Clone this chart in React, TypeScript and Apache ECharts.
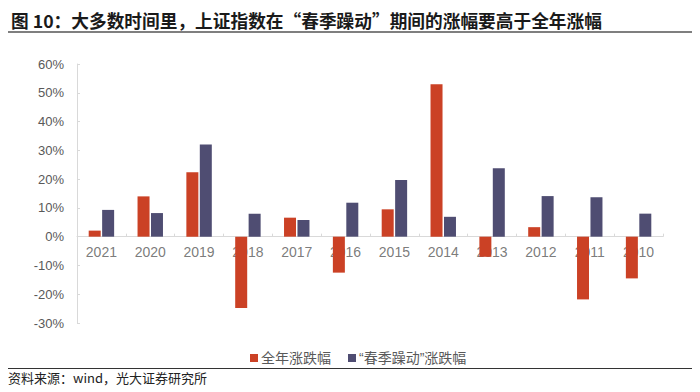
import React, { useEffect, useRef } from "react";
import * as echarts from "echarts";

const categories = ["2021", "2020", "2019", "2018", "2017", "2016", "2015", "2014", "2013", "2012", "2011", "2010"];
const fullYear = [2.1, 14.0, 22.4, -24.8, 6.6, -12.5, 9.5, 53.0, -7.0, 3.3, -21.8, -14.5];
const springRally = [9.3, 8.2, 32.0, 8.0, 5.8, 11.8, 19.7, 6.9, 23.8, 14.1, 13.7, 8.0];
const labelAnchors = [0, 0, 0, 0, 0, 0, 0, 0, 0, 0, 0, 0];
const seriesNames = ["全年涨跌幅", "\u201C春季躁动\u201D涨跌幅"];
const titleText = "图 10：大多数时间里，上证指数在“春季躁动”期间的涨幅要高于全年涨幅";
const sourceText = "资料来源：wind，光大证券研究所";

const FONT = "'Noto Sans CJK SC', 'Noto Sans', sans-serif";
const LATIN_FIRST = "'Liberation Sans', 'Noto Sans CJK SC', sans-serif";

export default function App() {
  const ref = useRef<HTMLDivElement>(null);
  useEffect(() => {
    if (!ref.current) return;
    const chart = echarts.init(ref.current, undefined, { renderer: "svg" });
    chart.setOption({
      animation: false,
      backgroundColor: "#ffffff",
      textStyle: { fontFamily: FONT },
      title: {
        text: titleText,
        left: 6,
        top: 6,
        textStyle: { fontSize: 17.7, fontWeight: "bold", color: "#1a1a1a", fontFamily: FONT },
      },
      graphic: [
        { type: "line", shape: { x1: 8, y1: 32, x2: 692, y2: 32 }, style: { stroke: "#555", lineWidth: 1.5 } },
        { type: "line", shape: { x1: 8, y1: 368.5, x2: 692, y2: 368.5 }, style: { stroke: "#333", lineWidth: 1 } },
        {
          type: "text",
          left: 8,
          top: 371,
          style: { text: sourceText, fontSize: 13, fill: "#222", fontFamily: FONT },
        },
      ],
      legend: {
        left: 245,
        top: 346,
        icon: "rect",
        itemWidth: 8,
        itemHeight: 8,
        itemGap: 17,
        textStyle: { fontSize: 14, color: "#595959", fontFamily: LATIN_FIRST, padding: [0, 0, 0, -2] },
        data: seriesNames,
      },
      grid: { left: 77, right: 37, top: 64, bottom: 69 },
      xAxis: {
        type: "category",
        data: categories,
        axisLine: { onZero: true, lineStyle: { color: "#d9d9d9", width: 1 } },
        axisTick: { show: true, length: 3, inside: true, lineStyle: { color: "#d9d9d9" } },
        axisLabel: { show: false },
        z: 0,
      },
      yAxis: {
        type: "value",
        min: -30,
        max: 60,
        interval: 10,
        axisLine: { show: true, lineStyle: { color: "#d9d9d9", width: 1 } },
        axisTick: { show: true, length: 3, inside: true, lineStyle: { color: "#d9d9d9" } },
        splitLine: { show: false },
        axisLabel: { fontSize: 13, color: "#595959", margin: 13, formatter: "{value}%", fontFamily: "'Liberation Sans', Arial, sans-serif" },
      },
      series: [
        {
          name: "xlabels",
          type: "scatter",
          data: labelAnchors,
          symbolSize: 0,
          silent: true,
          z: 1,
          label: {
            show: true,
            position: "bottom",
            distance: 8,
            formatter: (p: any) => p.name,
            fontSize: 14,
            color: "#595959",
            fontFamily: "'Liberation Sans', Arial, sans-serif",
          },
          tooltip: { show: false },
        },
        {
          name: seriesNames[0],
          type: "bar",
          data: fullYear,
          barWidth: 12,
          barGap: "12%",
          itemStyle: { color: "#CB4125" },
          z: 3,
        },
        {
          name: seriesNames[1],
          type: "bar",
          data: springRally,
          barWidth: 12,
          barGap: "12%",
          itemStyle: { color: "#4F4D72" },
          z: 3,
        },
      ],
    });
    return () => chart.dispose();
  }, []);
  return (
    <div style={{ position: "absolute", left: 0, top: 0 }}>
      <div ref={ref} style={{ width: 700, height: 392 }} />
    </div>
  );
}
